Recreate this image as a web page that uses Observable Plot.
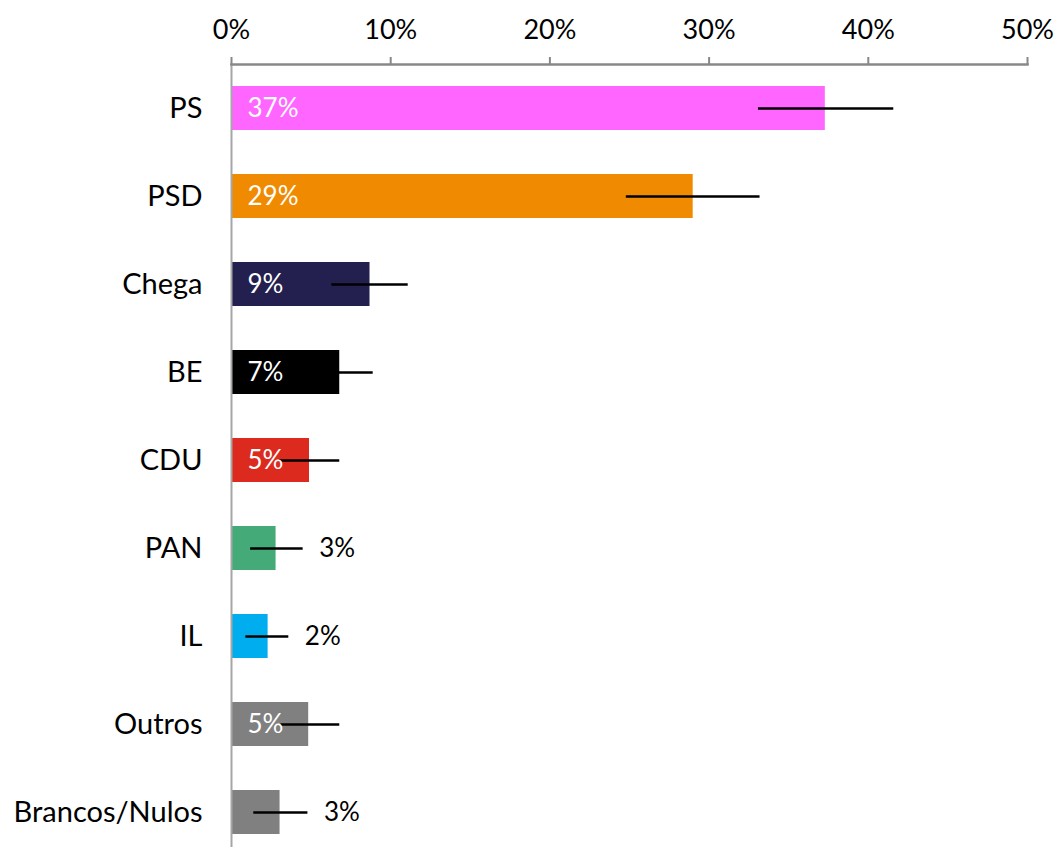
<!DOCTYPE html>
<html>
<head>
<meta charset="utf-8">
<script src="https://cdn.jsdelivr.net/npm/d3@7"></script>
<script src="https://cdn.jsdelivr.net/npm/@observablehq/plot@0.6"></script>
<style>
  html, body { margin: 0; padding: 0; background: #fff; }
  #chart { font-family: Lato, sans-serif; }
</style>
</head>
<body>
<div id="chart"></div>
<script>
const parties = ["PS", "PSD", "Chega", "BE", "CDU", "PAN", "IL", "Outros", "Brancos/Nulos"];
const values  = [37.3, 29.0, 8.7, 6.8, 4.9, 2.8, 2.3, 4.85, 3.05];
const lows    = [33.1, 24.8, 6.3, 4.7, 3.0, 1.2, 0.9, 3.1, 1.4];
const highs   = [41.6, 33.2, 11.1, 8.9, 6.8, 4.5, 3.6, 6.8, 4.8];
const colors  = ["#FF66FF", "#F08A00", "#231F4F", "#000000", "#DC2A1E", "#44AA77", "#00AEEF", "#808080", "#808080"];
const xTicks  = [0, 10, 20, 30, 40, 50];

const data = parties.map((p, i) => ({
  party: p, value: values[i], lo: lows[i], hi: highs[i], color: colors[i],
  label: Math.round(values[i]) + "%", inside: values[i] >= 4
}));

const chart = Plot.plot({
  width: 1056,
  height: 847,
  marginLeft: 231,
  marginRight: 29,
  marginTop: 64,
  marginBottom: 0,
  style: { fontFamily: "Lato, sans-serif", color: "#000", background: "#fff" },
  x: { domain: [0, 50] },
  y: { domain: parties, range: [64, 856], paddingInner: 0.5, paddingOuter: 0.25 },
  color: { type: "identity" },
  marks: [
    Plot.barX(data, { y: "party", x: "value", fill: "color" }),
    Plot.ruleY(data, { y: "party", x1: "lo", x2: "hi", stroke: "#000", strokeWidth: 2.5 }),
    Plot.ruleX([0], { stroke: "#a6a6a6", strokeWidth: 2 }),
    Plot.frame({ anchor: "top", stroke: "#888", strokeWidth: 2.5 }),
    Plot.axisX({ anchor: "top", ticks: xTicks, tickFormat: d => d + "%", tickSize: 8, tickPadding: 18,
                 stroke: "#888", strokeWidth: 2, fontSize: 27, fill: "#000", label: null }),
    Plot.axisY({ anchor: "left", tickSize: 0, tickPadding: 29, fontSize: 29, fill: "#000", label: null }),
    Plot.text(data.filter(d => d.inside), { y: "party", x: 0, text: "label", dx: 16, textAnchor: "start",
                 fill: "#fff", fontSize: 26 }),
    Plot.text(data.filter(d => !d.inside), { y: "party", x: "hi", text: "label", dx: 16, textAnchor: "start",
                 fill: "#000", fontSize: 26 })
  ]
});
document.getElementById("chart").appendChild(chart);
</script>
</body>
</html>
